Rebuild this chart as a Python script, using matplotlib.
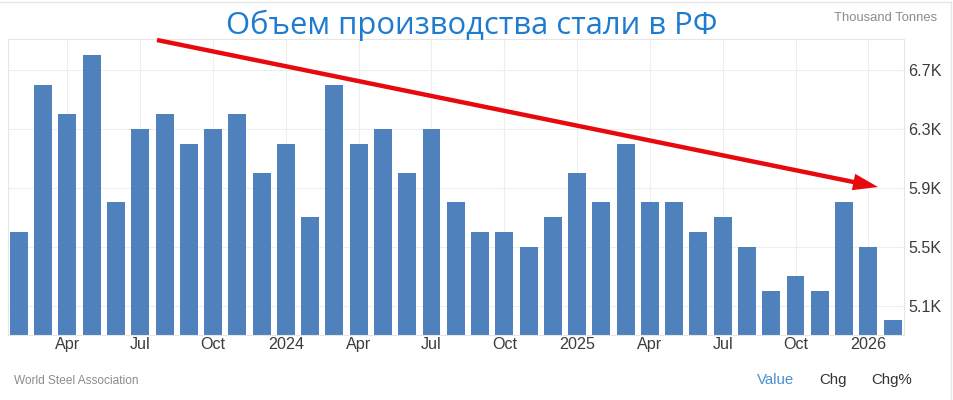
import matplotlib
matplotlib.use("Agg")
import matplotlib.pyplot as plt
from matplotlib.patches import FancyArrowPatch
from matplotlib.lines import Line2D

# World Steel, Russia, monthly, Feb 2023 - Feb 2026
values = [5.6, 6.6, 6.4, 6.8, 5.8, 6.3, 6.4, 6.2, 6.3, 6.4, 6.0, 6.2,
          5.7, 6.6, 6.2, 6.3, 6.0, 6.3, 5.8, 5.6, 5.6, 5.5, 5.7, 6.0,
          5.8, 6.2, 5.8, 5.8, 5.6, 5.7, 5.5, 5.2, 5.3, 5.2, 5.8, 5.5, 5.0]
x_tick_pos = [2, 5, 8, 11, 14, 17, 20, 23, 26, 29, 32, 35]
x_tick_labels = ["Apr", "Jul", "Oct", "2024", "Apr", "Jul", "Oct", "2025", "Apr", "Jul", "Oct", "2026"]
y_ticks = [5.1, 5.5, 5.9, 6.3, 6.7]
y_tick_labels = ["5.1K", "5.5K", "5.9K", "6.3K", "6.7K"]

W, H = 954, 400
plt.rcParams["font.family"] = ["Liberation Sans", "DejaVu Sans"]

fig = plt.figure(figsize=(W / 100, H / 100), dpi=100)
ax = fig.add_axes([8.5 / W, 1 - 335 / H, (904 - 8.5) / W, (335 - 39) / H])

ax.bar(range(len(values)), values, width=0.74, color="#4f81bd", zorder=2)
ax.set_xlim(-0.43, 36.47)
ax.set_ylim(4.9, 6.91)

ax.yaxis.tick_right()
ax.set_xticks(x_tick_pos, x_tick_labels)
ax.set_yticks(y_ticks, y_tick_labels)
ax.tick_params(length=0, labelsize=11.6, labelcolor="#3c3c3c")
ax.tick_params(axis="x", pad=1.5)
ax.tick_params(axis="y", pad=3)
ax.grid(color="#eeeeee", linewidth=0.8, zorder=0)
ax.set_axisbelow(True)
for name, spine in ax.spines.items():
    spine.set_color("#e6e6e6")
    spine.set_linewidth(0.8)

# red trend arrow, figure pixels
arrow = FancyArrowPatch((157 / W, 1 - 40 / H), (878 / W, 1 - 187 / H),
                        transform=fig.transFigure,
                        arrowstyle="simple,head_length=18,head_width=12,tail_width=3.2",
                        color="#e8090f", linewidth=0, shrinkA=0, shrinkB=0, zorder=5)
fig.add_artist(arrow)

fig.text(472 / W, 1 - 34 / H, "Объем производства стали в РФ", color="#1f7bd0",
         fontsize=22.3, family=["Open Sans", "DejaVu Sans"], ha="center", va="baseline")
fig.text(937 / W, 1 - 18 / H, "Thousand Tonnes", color="#8c8c8c", fontsize=9.4, ha="right", va="center")
fig.text(14 / W, 1 - 381 / H, "World Steel Association", color="#8c8c8c", fontsize=8.6, ha="left", va="center")
fig.text(776 / W, 1 - 380 / H, "Value", color="#4a90d0", fontsize=10.8, ha="center", va="center")
fig.text(833 / W, 1 - 380 / H, "Chg", color="#333333", fontsize=10.8, ha="center", va="center")
fig.text(892 / W, 1 - 380 / H, "Chg%", color="#333333", fontsize=10.8, ha="center", va="center")

# outer widget frame
fig.add_artist(Line2D([0, 951 / W], [1 - 2 / H, 1 - 2 / H], color="#e6e6e6", linewidth=1))
fig.add_artist(Line2D([951 / W, 951 / W], [0, 1 - 2 / H], color="#e6e6e6", linewidth=1))

fig.savefig("out.png", dpi=100)
